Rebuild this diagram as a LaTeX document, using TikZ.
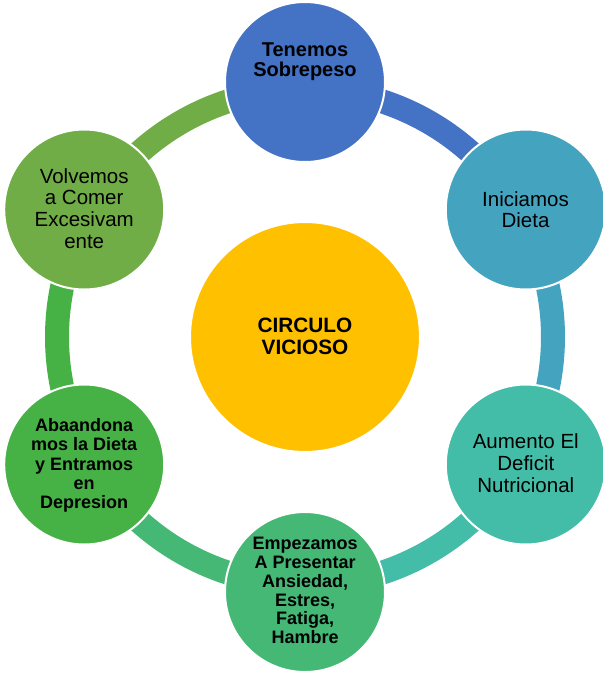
\documentclass[tikz,border=0pt]{standalone}
\usepackage{fontspec}
\setmainfont{Liberation Sans}
\definecolor{cT}{HTML}{4472C4}
\definecolor{cUR}{HTML}{44A4C0}
\definecolor{cLR}{HTML}{43BDA7}
\definecolor{cB}{HTML}{44B874}
\definecolor{cLL}{HTML}{46B246}
\definecolor{cUL}{HTML}{70AD47}
\definecolor{cMid}{HTML}{FFC000}
\newcommand{\lines}[1]{\begin{tabular}[t]{@{}c@{}}#1\end{tabular}}
\begin{document}
\begin{tikzpicture}[x=1pt,y=-1pt,
  bubble/.style={circle, draw=white, line width=2pt, minimum size=160pt, inner sep=0pt},
  hub/.style={circle, draw=white, line width=2pt, minimum size=230pt, inner sep=0pt, fill=cMid},
  band/.style={line width=24pt, line cap=butt},
  lbl/.style={anchor=base, inner sep=0pt, outer sep=0pt, text=black},
  reg/.style={font=\fontsize{20.5}{#1}\selectfont},
  bld/.style={font=\bfseries\fontsize{20}{#1}\selectfont},
  bldsm/.style={font=\bfseries\fontsize{18}{#1}\selectfont}]
\fill[white] (0,0) rectangle (603,673);
\useasboundingbox (0,0) rectangle (603,673);

\coordinate (ctr) at (305,337);

% ring of bands, each in the colour of the step it leaves from
\draw[band, cT]  (ctr) ++(-90:248) arc[start angle=-90, end angle=-30, radius=248];
\draw[band, cUR] (ctr) ++(-30:248) arc[start angle=-30, end angle=30,  radius=248];
\draw[band, cLR] (ctr) ++(30:248)  arc[start angle=30,  end angle=90,  radius=248];
\draw[band, cB]  (ctr) ++(90:248)  arc[start angle=90,  end angle=150, radius=248];
\draw[band, cLL] (ctr) ++(150:248) arc[start angle=150, end angle=210, radius=248];
\draw[band, cUL] (ctr) ++(210:248) arc[start angle=210, end angle=270, radius=248];

% steps of the cycle
\node[bubble, fill=cT]  (T)  at (305,82) {};
\node[bubble, fill=cUR] (UR) at (525.8,209.5) {};
\node[bubble, fill=cLR] (LR) at (525.8,464.5) {};
\node[bubble, fill=cB]  (B)  at (305,592) {};
\node[bubble, fill=cLL] (LL) at (84.2,464.5) {};
\node[bubble, fill=cUL] (UL) at (84.2,209.5) {};
\node[hub] (M) at (ctr) {};

% texts
\node[lbl, bld=20.7] (tT) at (305,56) {\lines{Tenemos\\Sobrepeso}};
\node[lbl, reg=20.6] (tUR) at (525.5,206.7) {\lines{Iniciamos\\Dieta}};
\node[lbl, reg=22.2] (tLR) at (525.8,448.3) {\lines{Aumento El\\Deficit\\Nutricional}};
\node[lbl, bldsm=18.9] (tB) at (305.2,549.3) {\lines{Empezamos\\A Presentar\\Ansiedad,\\Estres,\\Fatiga,\\Hambre}};
\node[lbl, bldsm=19.15] (tLL) at (84.2,431.7) {\lines{Abaandona\\mos la Dieta\\y Entramos\\en\\Depresion}};
\node[lbl, reg=21.7] (tUL) at (84.2,183.2) {\lines{Volvemos\\a Comer\\Excesivam\\ente}};
\node[lbl, font=\bfseries\fontsize{20.8}{22.5}\selectfont] (tM) at (305,332) {\lines{CIRCULO\\VICIOSO}};
\end{tikzpicture}
\end{document}
